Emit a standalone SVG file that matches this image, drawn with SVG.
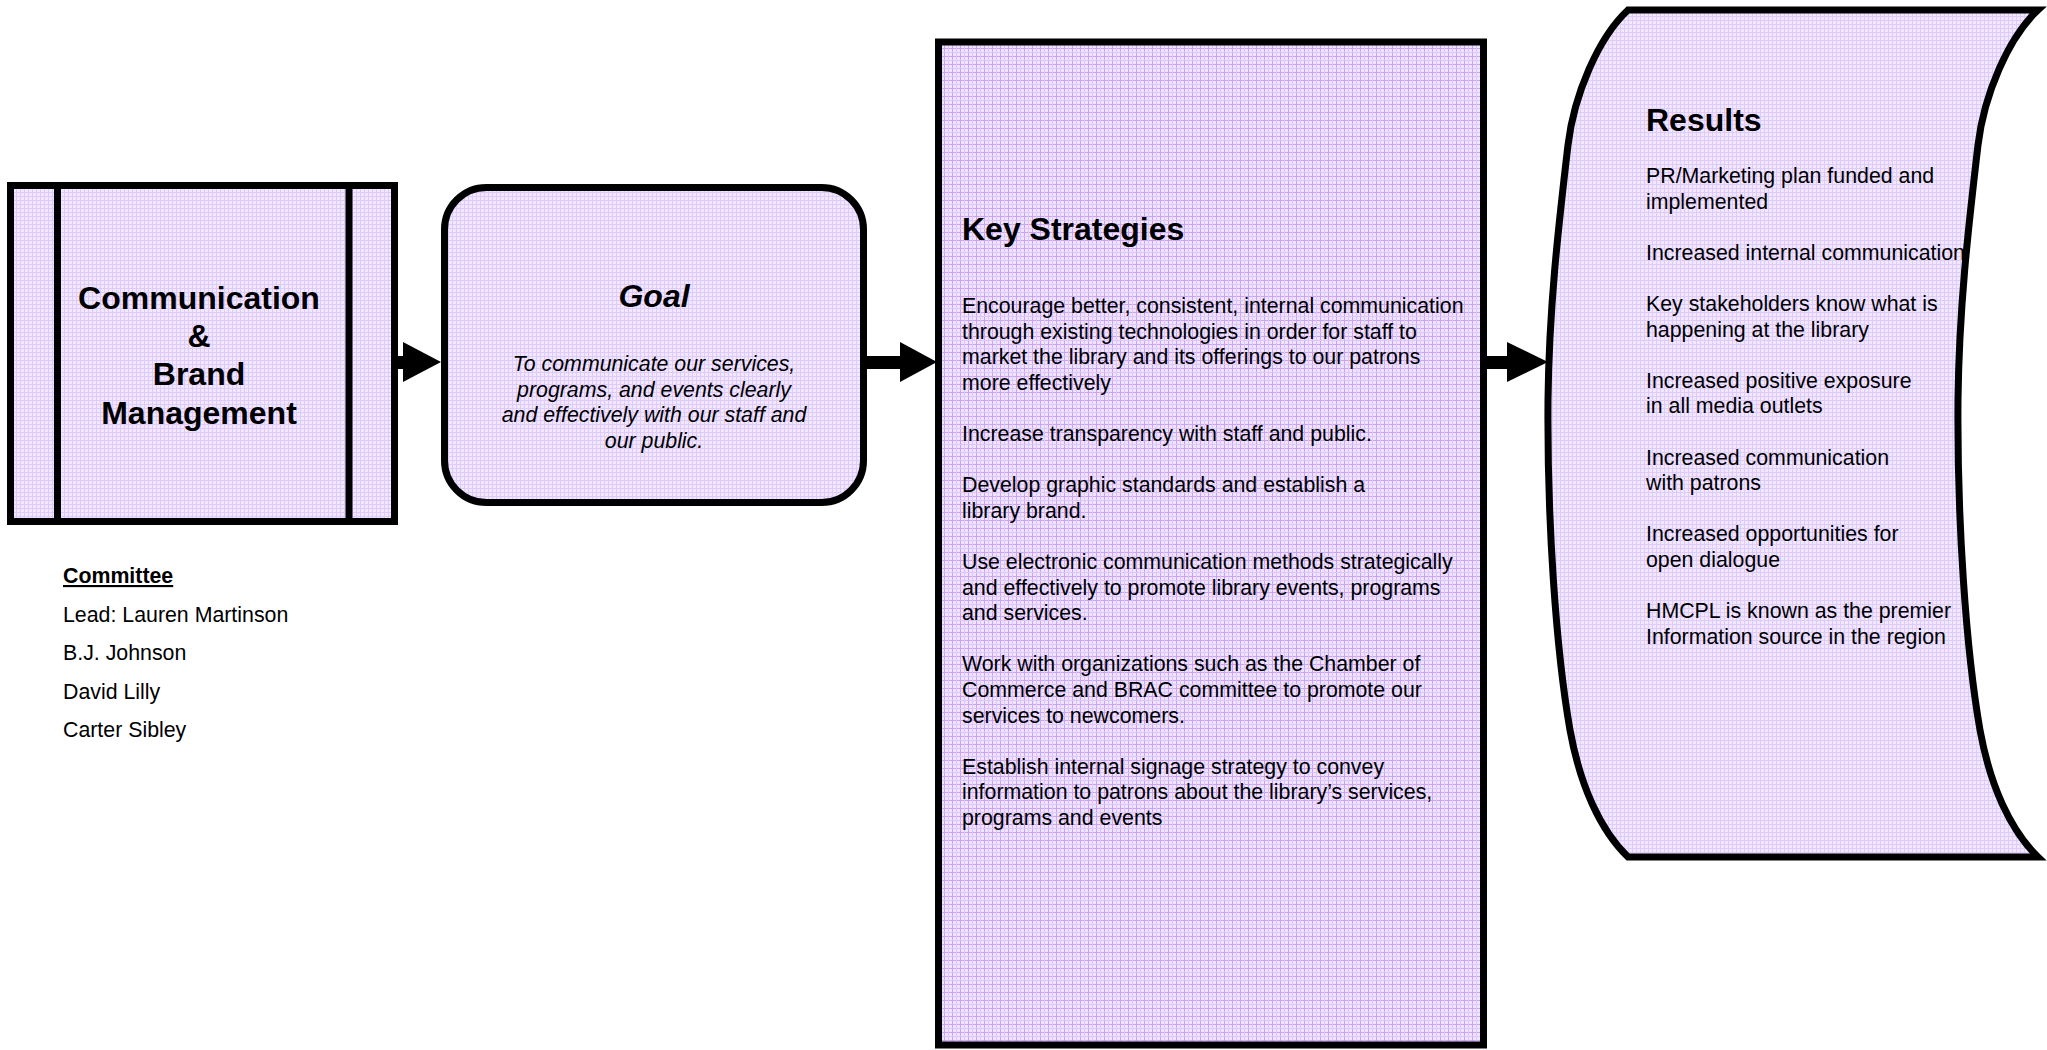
<svg xmlns="http://www.w3.org/2000/svg" width="2047" height="1050" viewBox="0 0 2047 1050">
<defs>
<pattern id="gridA" width="8" height="8" patternUnits="userSpaceOnUse">
<rect width="8" height="8" fill="#EFE3FF"/>
<rect width="8" height="1" fill="#C9A4F4"/>
<rect width="1" height="8" fill="#C9A4F4"/>
<rect y="4" width="8" height="1" fill="#DDC6FA"/>
<rect x="4" width="1" height="8" fill="#DDC6FA"/>
</pattern>
<pattern id="gridB" width="4" height="4" patternUnits="userSpaceOnUse">
<rect width="4" height="4" fill="#F1E7FF"/>
<rect width="4" height="1" fill="#DFCBFB"/>
<rect width="1" height="4" fill="#DFCBFB"/>
</pattern>
<style>
.t{font-family:"Liberation Sans",Arial,sans-serif;fill:#000}
.body{font-size:21.33px}
.h{font-size:32px;font-weight:bold}
.bd{stroke:#000;stroke-width:7}
</style>
</defs>
<rect width="2047" height="1050" fill="#fff"/>

<g id="connectors" fill="#000">
<rect x="396" y="356" width="10" height="13"/>
<polygon points="403,342 441,362 403,382"/>
<rect x="862" y="356" width="40" height="13"/>
<polygon points="900,342 937,362 900,382"/>
<rect x="1484" y="356" width="25" height="13"/>
<polygon points="1507,342 1548,362 1507,382"/>
</g>

<g id="node-communication">
<rect x="10.5" y="185.5" width="384" height="336" fill="url(#gridB)" class="bd"/>
<line x1="57.5" y1="185.5" x2="57.5" y2="521.5" class="bd" fill="none"/>
<line x1="349" y1="185.5" x2="349" y2="521.5" class="bd" fill="none"/>
<text class="t h" text-anchor="middle" x="199"><tspan x="199" y="308.5">Communication</tspan><tspan x="199" y="346.9">&amp;</tspan><tspan x="199" y="385.3">Brand</tspan><tspan x="199" y="423.7">Management</tspan></text>
</g>

<g id="node-goal">
<rect x="444.5" y="187.5" width="419" height="315" rx="42" ry="42" fill="url(#gridB)" class="bd"/>
<text class="t h" font-style="italic" text-anchor="middle" x="654" y="307">Goal</text>
<text class="t body" font-style="italic" text-anchor="middle"><tspan x="654" y="371">To communicate our services,</tspan><tspan x="654" y="396.6">programs, and events clearly</tspan><tspan x="654" y="422.2">and effectively with our staff and</tspan><tspan x="654" y="447.8">our public.</tspan></text>
</g>

<g id="node-strategies">
<rect x="938.5" y="42" width="545" height="1003" fill="url(#gridA)" class="bd"/>
<text class="t h" x="962" y="240">Key Strategies</text>
<text class="t body"><tspan x="962" y="313">Encourage better, consistent, internal communication</tspan><tspan x="962" y="338.6">through existing technologies in order for staff to</tspan><tspan x="962" y="364.2">market the library and its offerings to our patrons</tspan><tspan x="962" y="389.8">more effectively</tspan><tspan x="962" y="441">Increase transparency with staff and public.</tspan><tspan x="962" y="492.2">Develop graphic standards and establish a</tspan><tspan x="962" y="517.8">library brand.</tspan><tspan x="962" y="569">Use electronic communication methods strategically</tspan><tspan x="962" y="594.6">and effectively to promote library events, programs</tspan><tspan x="962" y="620.2">and services.</tspan><tspan x="962" y="671.4">Work with organizations such as the Chamber of</tspan><tspan x="962" y="697">Commerce and BRAC committee to promote our</tspan><tspan x="962" y="722.6">services to newcomers.</tspan><tspan x="962" y="773.8">Establish internal signage strategy to convey</tspan><tspan x="962" y="799.4">information to patrons about the library’s services,</tspan><tspan x="962" y="825">programs and events</tspan></text>
</g>

<g id="node-results">
<path d="M1628,10 L2038,10 C2008,38 1984,95 1978,145 C1968,230 1959,310 1958,400 C1957,520 1966,650 1980,730 C1990,785 2010,830 2038,857 L1628,857 C1600,830 1580,785 1570,730 C1556,650 1547,520 1548,400 C1549,310 1558,230 1568,145 C1574,95 1598,38 1628,10 Z" fill="url(#gridB)"/>
<text class="t h" x="1646" y="131">Results</text>
<text class="t body"><tspan x="1646" y="183">PR/Marketing plan funded and</tspan><tspan x="1646" y="208.6">implemented</tspan><tspan x="1646" y="259.8">Increased internal communication</tspan><tspan x="1646" y="311">Key stakeholders know what is</tspan><tspan x="1646" y="336.6">happening at the library</tspan><tspan x="1646" y="387.8">Increased positive exposure</tspan><tspan x="1646" y="413.4">in all media outlets</tspan><tspan x="1646" y="464.6">Increased communication</tspan><tspan x="1646" y="490.2">with patrons</tspan><tspan x="1646" y="541.4">Increased opportunities for</tspan><tspan x="1646" y="567">open dialogue</tspan><tspan x="1646" y="618.2">HMCPL is known as the premier</tspan><tspan x="1646" y="643.8">Information source in the region</tspan></text>
<path d="M1628,10 L2038,10 C2008,38 1984,95 1978,145 C1968,230 1959,310 1958,400 C1957,520 1966,650 1980,730 C1990,785 2010,830 2038,857 L1628,857 C1600,830 1580,785 1570,730 C1556,650 1547,520 1548,400 C1549,310 1558,230 1568,145 C1574,95 1598,38 1628,10 Z" class="bd" fill="none" stroke-width="7.5" stroke-linejoin="miter" stroke-miterlimit="4"/>
</g>

<g id="committee">
<text class="t body" font-weight="bold" text-decoration="underline" x="63" y="583">Committee</text>
<text class="t body"><tspan x="63" y="621.5">Lead: Lauren Martinson</tspan><tspan x="63" y="660">B.J. Johnson</tspan><tspan x="63" y="698.5">David Lilly</tspan><tspan x="63" y="737">Carter Sibley</tspan></text>
</g>
</svg>
